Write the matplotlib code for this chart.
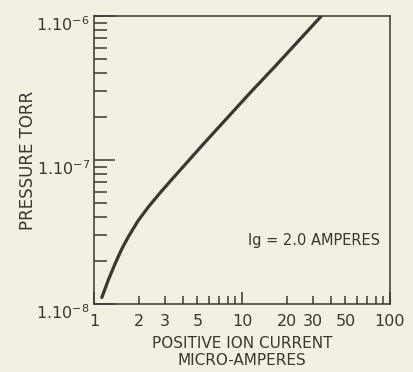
import matplotlib
matplotlib.use("Agg")
import matplotlib.pyplot as plt
import matplotlib.transforms as mtransforms
from matplotlib.ticker import FixedLocator, FixedFormatter, NullFormatter

# positive ion current (micro-amperes) vs pressure (torr), Ig = 2.0 A
current = [1.13, 1.25, 1.39, 1.54, 1.71, 1.99, 2.33, 2.79, 3.38, 5.48,
           11.6, 16.7, 34.4]
pressure = [1.11e-8, 1.47e-8, 1.91e-8, 2.41e-8, 2.94e-8, 3.80e-8, 4.72e-8,
            5.90e-8, 7.39e-8, 1.29e-7, 3.00e-7, 4.46e-7, 1.0e-6]

x_major = [1, 10, 100]
x_major_labels = ["1", "10", "100"]
x_minor = [2, 3, 4, 5, 6, 7, 8, 9, 20, 30, 40, 50, 60, 70, 80, 90]
x_minor_labels = ["2", "3", "", "5", "", "", "", "", "20", "30", "", "50", "", "", "", ""]
y_major = [1e-8, 1e-7, 1e-6]
y_major_labels = ["1.10$^{-8}$", "1.10$^{-7}$", "1.10$^{-6}$"]

paper = "#f3efe2"
ink = "#3a3632"

fig = plt.figure(figsize=(4.13, 3.72), dpi=100, facecolor=paper)
ax = fig.add_axes([0.2276, 0.1828, 0.7167, 0.7742], facecolor=paper)

ax.plot(current, pressure, color=ink, lw=2.3, solid_capstyle="round",
        solid_joinstyle="round")

ax.set_xscale("log")
ax.set_yscale("log")
ax.set_xlim(1, 100)
ax.set_ylim(1e-8, 1e-6)

ax.xaxis.set_major_locator(FixedLocator(x_major))
ax.xaxis.set_major_formatter(FixedFormatter(x_major_labels))
ax.xaxis.set_minor_locator(FixedLocator(x_minor))
ax.xaxis.set_minor_formatter(FixedFormatter(x_minor_labels))
ax.yaxis.set_major_locator(FixedLocator(y_major))
ax.yaxis.set_major_formatter(FixedFormatter(y_major_labels))
ax.yaxis.set_minor_formatter(NullFormatter())

for s in ax.spines.values():
    s.set_color(ink)
    s.set_linewidth(1.1)

ax.tick_params(which="both", direction="in", colors=ink, labelcolor=ink,
               top=False, right=False, width=1.1, labelsize=11.5)
ax.tick_params(axis="x", which="both", pad=7)
ax.tick_params(axis="x", which="major", length=9)
ax.tick_params(axis="x", which="minor", length=6)
ax.tick_params(axis="y", which="major", length=15)
ax.tick_params(axis="y", which="minor", length=9)
ax.tick_params(axis="y", which="both", pad=3)

# nudge the y labels down so the exponent sits level with the tick
shift = mtransforms.ScaledTranslation(0, -5 / 72, fig.dpi_scale_trans)
for lbl in ax.get_yticklabels():
    lbl.set_transform(lbl.get_transform() + shift)

ax.set_ylabel("PRESSURE TORR", fontsize=12, color=ink, labelpad=-0.5)
ax.set_xlabel("POSITIVE ION CURRENT\nMICRO-AMPERES", fontsize=11,
              color=ink, linespacing=1.2, labelpad=5)

ax.text(0.52, 0.22, "Ig = 2.0 AMPERES", transform=ax.transAxes,
        fontsize=10.5, color=ink, ha="left", va="center")

fig.savefig("out.png", dpi=100, facecolor=paper)
